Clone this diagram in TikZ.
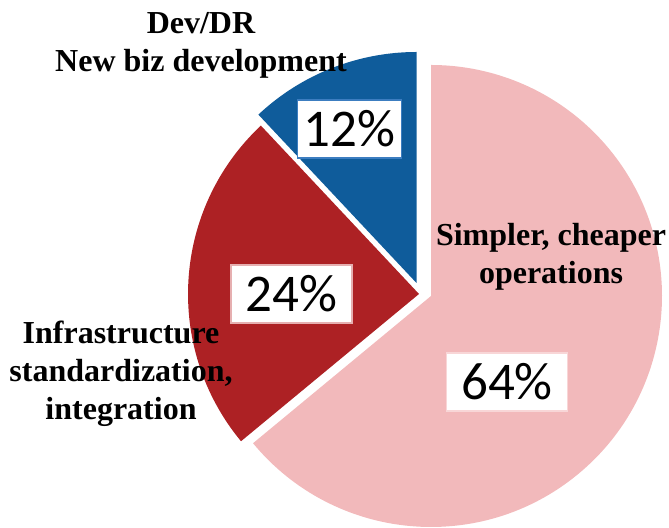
\documentclass[tikz,border=0pt]{standalone}
\usepackage{fontspec}
\setmainfont{Liberation Serif}
\newfontfamily\pctfont{Carlito}
\definecolor{slicepink}{HTML}{F2B9BB}
\definecolor{slicered}{HTML}{AD2124}
\definecolor{sliceblue}{HTML}{0F5C9B}
\definecolor{bdblue}{HTML}{3C7DC0}
\definecolor{bdred}{HTML}{E6AFB0}
\definecolor{bdpink}{HTML}{F8D6D7}
\begin{document}
\begin{tikzpicture}[x=1bp,y=1bp,
  pct/.style={draw, fill=white, line width=1.5bp, inner sep=0pt,
    font=\pctfont\fontsize{53bp}{60bp}\selectfont, minimum height=58bp},
  lab/.style={font=\bfseries\fontsize{32bp}{38bp}\selectfont, align=center, anchor=base, inner sep=0pt}]
\useasboundingbox (0,0) rectangle (669,528);
% slice centres
\coordinate (cp) at (431,232);
\coordinate (cr) at (419,234);
\coordinate (cb) at (416.5,245);
% slices
\fill[slicepink] (cp) -- ++(-140.4:231) arc[start angle=-140.4, end angle=90, radius=231] -- cycle;
\fill[slicered] (cr) -- ++(133.2:231) arc[start angle=133.2, end angle=219.6, radius=231] -- cycle;
\fill[sliceblue] (cb) -- ++(90:231) arc[start angle=90, end angle=133.2, radius=231] -- cycle;
% percentage boxes
\node[pct, draw=bdblue, minimum width=104bp] (p12) at (349.5,399) {12\%};
\node[pct, draw=bdred, minimum width=121bp] (p24) at (291.5,234) {24\%};
\node[pct, draw=bdpink, minimum width=121bp] (p64) at (507,146) {64\%};
% category labels (base anchor = baseline of last line)
\node[lab] (ldev) at (201,456.3) {Dev/DR\\New biz development};
\node[lab] (lsimp) at (551,244) {Simpler, cheaper\\operations};
\node[lab] (linfra) at (121,108) {Infrastructure\\standardization,\\integration};
\end{tikzpicture}
\end{document}
